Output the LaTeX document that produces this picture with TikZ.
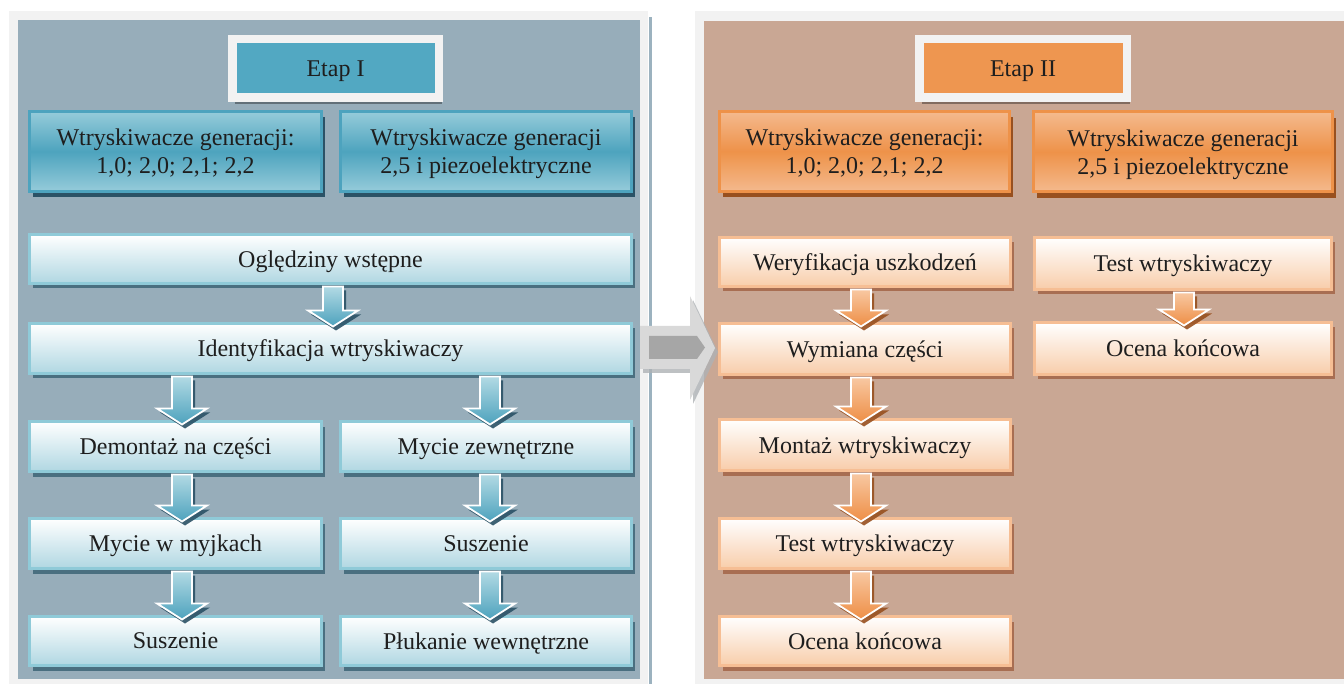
\documentclass[tikz,border=0pt]{standalone}
\usepackage{fontspec}
\setmainfont{Liberation Serif}
\usetikzlibrary{shadows,calc}
\definecolor{framegray}{HTML}{F2F2F2}
\definecolor{lbg}{HTML}{97ADBA}
\definecolor{rbg}{HTML}{C9A794}
\definecolor{lline}{HTML}{9CB2BF}
\definecolor{txt}{HTML}{1E1E1E}
\definecolor{bhdr}{HTML}{4DA3BE}
\definecolor{bhdrl}{HTML}{96CCDA}
\definecolor{bhsh}{HTML}{2B5266}
\definecolor{brb}{HTML}{8FCAD8}
\definecolor{brbot}{HTML}{B0D7E2}
\definecolor{brsh}{HTML}{4A6F80}
\definecolor{etap1}{HTML}{52A8C2}
\definecolor{ohdr}{HTML}{EE9249}
\definecolor{ohdrl}{HTML}{F4BA8E}
\definecolor{ohsh}{HTML}{98501F}
\definecolor{orb}{HTML}{F6BE94}
\definecolor{orbot}{HTML}{F8CDAA}
\definecolor{orsh}{HTML}{A86E52}
\definecolor{etap2}{HTML}{EE9650}
\definecolor{garrow}{HTML}{D9D9D9}
\definecolor{garrowin}{HTML}{A6A6A6}
\definecolor{garrowsh}{HTML}{AEB2B5}
\definecolor{barrtop}{HTML}{B2DAE4}
\definecolor{barrbot}{HTML}{4DA2BD}
\definecolor{oarrtop}{HTML}{F8C8A2}
\definecolor{oarrbot}{HTML}{EE8E45}
\newcommand\dnarrow[4]{%
  \path[#1] let \p1=(#3.south), \p2=(#4.north) in
    ({#2pt-10pt},{\y1-3pt}) -- ({#2pt+10pt},{\y1-3pt}) -- ({#2pt+10pt},{\y2+13pt})
    -- ({#2pt+25pt},{\y2+13pt}) -- ({#2pt},{\y2-3pt}) -- ({#2pt-25pt},{\y2+13pt})
    -- ({#2pt-10pt},{\y2+13pt}) -- cycle;}
\begin{document}
\begin{tikzpicture}[x=1pt,y=-1pt,
  every node/.style={inner sep=0pt, outer sep=0pt, text=txt, align=center,
    text depth=0pt, font=\fontsize{24}{28}\selectfont},
  etapbox/.style={draw=framegray, line width=8.5pt,
    minimum height=58.5pt,
    drop shadow={shadow xshift=3pt, shadow yshift=-6pt, fill=black, opacity=0.35}},
  bhead/.style={draw=bhdr, line width=3pt, top color=bhdrl, bottom color=bhdrl,
    middle color=bhdr, minimum height=80pt,
    drop shadow={shadow xshift=3pt, shadow yshift=-6pt, fill=bhsh, opacity=1}},
  brow/.style={draw=brb, line width=3pt, top color=white, bottom color=brbot,
    drop shadow={shadow xshift=3pt, shadow yshift=-5pt, fill=brsh, opacity=1}},
  ohead/.style={draw=ohdr, line width=3pt, top color=ohdrl, bottom color=ohdrl,
    middle color=ohdr, minimum height=80pt,
    drop shadow={shadow xshift=3pt, shadow yshift=-6pt, fill=ohsh, opacity=1}},
  orow/.style={draw=orb, line width=3pt, top color=white, bottom color=orbot,
    drop shadow={shadow xshift=3pt, shadow yshift=-5pt, fill=orsh, opacity=1}},
  barr/.style={draw=white, line width=1.8pt, top color=barrtop, bottom color=barrbot,
    drop shadow={shadow xshift=3pt, shadow yshift=-4pt, fill=bhsh, opacity=0.9}},
  oarr/.style={draw=white, line width=1.8pt, top color=oarrtop, bottom color=oarrbot,
    drop shadow={shadow xshift=3pt, shadow yshift=-4pt, fill=ohsh, opacity=0.9}}
]
\useasboundingbox (0,0) rectangle (1344,684);
\fill[white] (0,0) rectangle (1344,684);
% panels
\fill[framegray] (9,11) rectangle (648,684);
\fill[lbg] (18,20) rectangle (640,679);
\fill[framegray] (695,11) rectangle (1344,684);
\fill[rbg] (704,21) rectangle (1344,679);
\fill[lline] (649,17) rectangle (652,684);
% big gray arrow
\fill[garrowsh, opacity=0.8] (643,330) -- (693,330) -- (693,300) -- (718,352) -- (693,404) -- (693,373) -- (643,373) -- cycle;
\fill[garrow] (640,326) -- (690,326) -- (690,296) -- (715,348) -- (690,400) -- (690,369) -- (640,369) -- cycle;
\fill[garrowin] (649,336) -- (697,336) -- (705,347.5) -- (697,359) -- (649,359) -- cycle;
% ---- Etap I
\node[etapbox, fill=etap1, minimum width=206.5pt] (e1) at (335.5,68.5) {Etap I};
\node[bhead, minimum width=292pt] (h1a) at (175.5,151.5) {Wtryskiwacze generacji:\\1,0; 2,0; 2,1; 2,2};
\node[bhead, minimum width=291pt] (h1b) at (486,151.5) {Wtryskiwacze generacji\\2,5 i piezoelektryczne};
\node[brow, minimum width=602pt, minimum height=49pt] (ogl) at (330.5,259) {Oględziny wstępne};
\node[brow, minimum width=602pt, minimum height=50pt] (ide) at (330.5,348.5) {Identyfikacja wtryskiwaczy};
\node[brow, minimum width=292pt, minimum height=50pt] (dem) at (175.5,446.5) {Demontaż na części};
\node[brow, minimum width=291pt, minimum height=50pt] (myz) at (486,446.5) {Mycie zewnętrzne};
\node[brow, minimum width=292pt, minimum height=50pt] (myj) at (175.5,543.5) {Mycie w myjkach};
\node[brow, minimum width=291pt, minimum height=50pt] (sus2) at (486,543.5) {Suszenie};
\node[brow, minimum width=292pt, minimum height=49pt] (sus1) at (175.5,641) {Suszenie};
\node[brow, minimum width=291pt, minimum height=49pt] (plu) at (486,641) {Płukanie wewnętrzne};
\dnarrow{barr}{333}{ogl}{ide}
\dnarrow{barr}{182}{ide}{dem}
\dnarrow{barr}{490}{ide}{myz}
\dnarrow{barr}{182}{dem}{myj}
\dnarrow{barr}{182}{myj}{sus1}
\dnarrow{barr}{490}{myz}{sus2}
\dnarrow{barr}{490}{sus2}{plu}
% ---- Etap II
\node[etapbox, fill=etap2, minimum width=207.5pt] (e2) at (1023,68.5) {Etap II};
\node[ohead, minimum width=290pt] (h2a) at (864.5,151.5) {Wtryskiwacze generacji:\\1,0; 2,0; 2,1; 2,2};
\node[ohead, minimum width=299pt] (h2b) at (1183,152) {Wtryskiwacze generacji\\2,5 i piezoelektryczne};
\node[orow, minimum width=291pt, minimum height=49pt] (wer) at (865,262) {Weryfikacja uszkodzeń};
\node[orow, minimum width=291pt, minimum height=51pt] (wym) at (865,349) {Wymiana części};
\node[orow, minimum width=291pt, minimum height=51pt] (mon) at (865,445) {Montaż wtryskiwaczy};
\node[orow, minimum width=291pt, minimum height=50pt] (tst) at (865,543.5) {Test wtryskiwaczy};
\node[orow, minimum width=291pt, minimum height=49pt] (oce) at (865,641) {Ocena końcowa};
\node[orow, minimum width=297pt, minimum height=52pt] (tst2) at (1183,263.5) {Test wtryskiwaczy};
\node[orow, minimum width=297pt, minimum height=52pt] (oce2) at (1183,348.5) {Ocena końcowa};
\dnarrow{oarr}{861}{wer}{wym}
\dnarrow{oarr}{861}{wym}{mon}
\dnarrow{oarr}{861}{mon}{tst}
\dnarrow{oarr}{861}{tst}{oce}
\dnarrow{oarr}{1184}{tst2}{oce2}
\end{tikzpicture}
\end{document}
